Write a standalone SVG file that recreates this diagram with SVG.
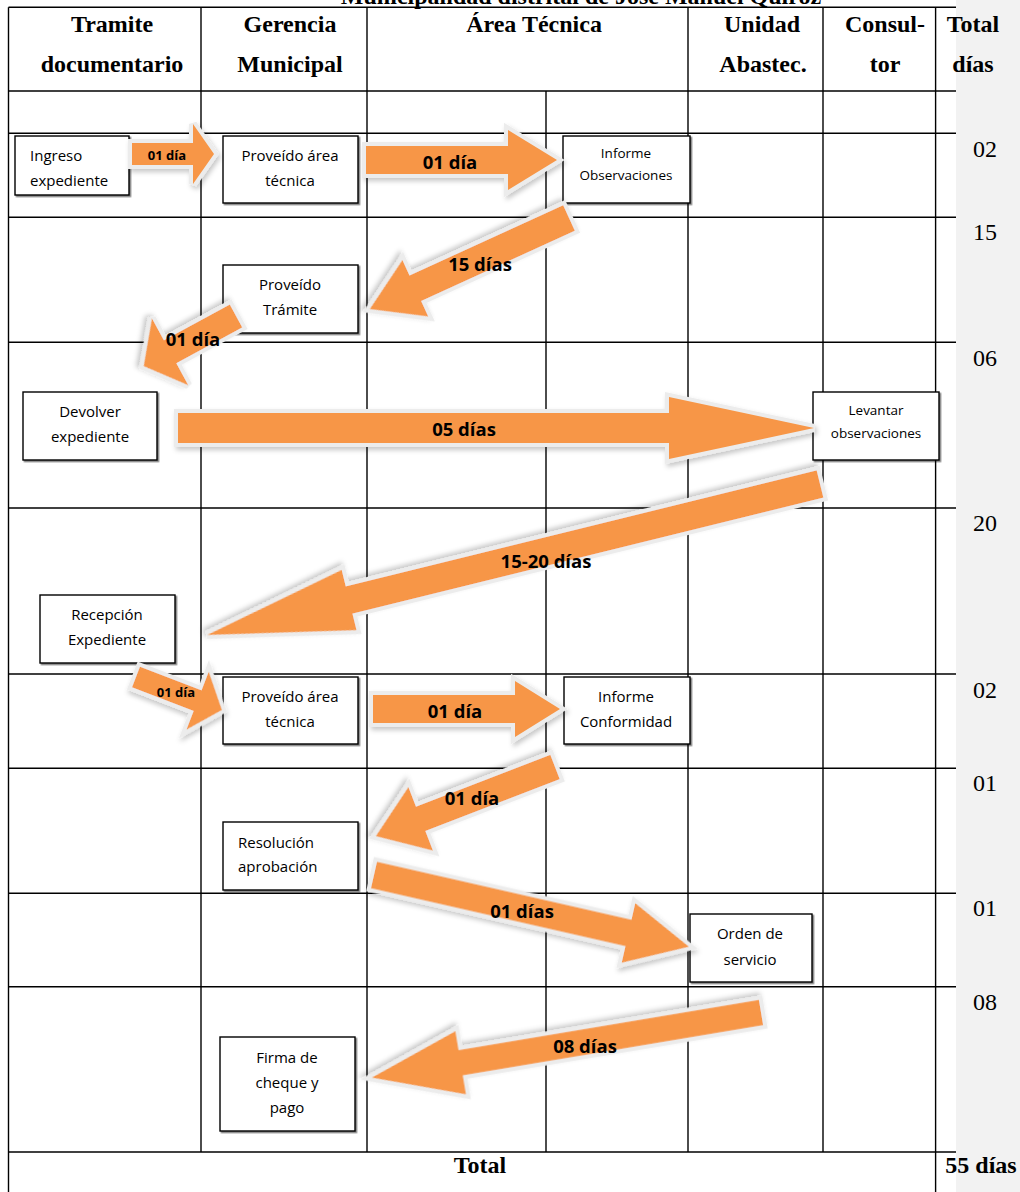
<svg xmlns="http://www.w3.org/2000/svg" width="1020" height="1192" viewBox="0 0 1020 1192">
<defs>
<style>
.ln{stroke:#000;stroke-width:1.4;fill:none}
.h{font-family:"Liberation Serif","Times New Roman",serif;font-weight:bold;font-size:24px;text-anchor:middle;fill:#000}
.num{font-family:"Liberation Serif","Times New Roman",serif;font-size:24px;text-anchor:middle;fill:#000}
.box{fill:#fff;stroke:#000;stroke-width:1.4;filter:url(#bs)}
.t{font-family:"Open Sans","Noto Sans",sans-serif;font-size:15px;fill:#000;text-anchor:middle}
.tl{text-anchor:start}
.ts{font-size:13.5px}
.arr{fill:#F79646;stroke:#ECECEC;stroke-width:8;paint-order:stroke;stroke-linejoin:miter;stroke-miterlimit:3;filter:url(#as)}
.lbl{font-family:"Open Sans","Noto Sans",sans-serif;font-weight:bold;font-size:18.5px;text-anchor:middle;fill:#000}
.lbs{font-size:13px}
</style>
<filter id="bs" x="-5%" y="-5%" width="115%" height="115%"><feDropShadow dx="1.5" dy="1.5" stdDeviation="0.5" flood-color="#000" flood-opacity="0.5"/></filter>
<filter id="as" x="-10%" y="-30%" width="125%" height="170%"><feDropShadow dx="2" dy="3" stdDeviation="2.5" flood-color="#000" flood-opacity="0.22"/></filter>
</defs>
<rect x="0" y="0" width="1020" height="1192" fill="#fff"/>
<text class="h" x="581" y="4">Municipalidad distrital de José Manuel Quiroz</text>
<g id="table">
<g class="ln">
<line x1="8.5" y1="7.3" x2="1020" y2="7.3"/>
<line x1="8.5" y1="91" x2="1020" y2="91"/>
<line x1="8.5" y1="133.3" x2="1020" y2="133.3"/>
<line x1="8.5" y1="217.3" x2="1020" y2="217.3"/>
<line x1="8.5" y1="342.3" x2="1020" y2="342.3"/>
<line x1="8.5" y1="508" x2="1020" y2="508"/>
<line x1="8.5" y1="674" x2="1020" y2="674"/>
<line x1="8.5" y1="768.3" x2="1020" y2="768.3"/>
<line x1="8.5" y1="893.3" x2="1020" y2="893.3"/>
<line x1="8.5" y1="986.7" x2="1020" y2="986.7"/>
<line x1="8.5" y1="1152" x2="1020" y2="1152"/>
<line x1="8.5" y1="7.3" x2="8.5" y2="1192"/>
<line x1="201" y1="7.3" x2="201" y2="1152"/>
<line x1="367" y1="7.3" x2="367" y2="1152"/>
<line x1="546" y1="91" x2="546" y2="1152"/>
<line x1="688" y1="7.3" x2="688" y2="1152"/>
<line x1="823" y1="7.3" x2="823" y2="1152"/>
<line x1="935.6" y1="7.3" x2="935.6" y2="1192"/>
</g>
<rect x="956" y="0" width="64" height="1192" fill="#f2f2f2"/>
<text class="h" x="112" y="32">Tramite</text>
<text class="h" x="112" y="72">documentario</text>
<text class="h" x="290" y="32">Gerencia</text>
<text class="h" x="290" y="72">Municipal</text>
<text class="h" x="534" y="32">Área Técnica</text>
<text class="h" x="762" y="32">Unidad</text>
<text class="h" x="763" y="72">Abastec.</text>
<text class="h" x="885" y="32">Consul-</text>
<text class="h" x="885" y="72">tor</text>
<text class="h" x="973" y="32">Total</text>
<text class="h" x="973" y="72">días</text>
<text class="num" x="985" y="157">02</text>
<text class="num" x="985" y="240">15</text>
<text class="num" x="985" y="366">06</text>
<text class="num" x="985" y="531">20</text>
<text class="num" x="985" y="698">02</text>
<text class="num" x="985" y="791">01</text>
<text class="num" x="985" y="916">01</text>
<text class="num" x="985" y="1010">08</text>
<text class="h" x="480" y="1173">Total</text>
<text class="h" x="981" y="1173">55 días</text>
</g>
<g id="n1"><rect class="box" x="15" y="136" width="114" height="59"/><text class="t tl" x="30" y="161">Ingreso</text><text class="t tl" x="30" y="186">expediente</text></g>
<g id="n2"><rect class="box" x="223" y="136" width="135" height="67"/><text class="t" x="290" y="161">Proveído área</text><text class="t" x="290" y="186">técnica</text></g>
<g id="n3"><rect class="box" x="563" y="136" width="127" height="67"/><text class="t ts" x="626" y="158">Informe</text><text class="t ts" x="626" y="180">Observaciones</text></g>
<g id="n4"><rect class="box" x="223" y="265" width="135" height="68"/><text class="t" x="290" y="290">Proveído</text><text class="t" x="290" y="315">Trámite</text></g>
<g id="n5"><rect class="box" x="23" y="392" width="134" height="68"/><text class="t" x="90" y="417">Devolver</text><text class="t" x="90" y="442">expediente</text></g>
<g id="n6"><rect class="box" x="813" y="392" width="126" height="68"/><text class="t ts" x="876" y="415">Levantar</text><text class="t ts" x="876" y="438">observaciones</text></g>
<g id="n7"><rect class="box" x="40" y="595" width="135" height="68"/><text class="t" x="107" y="620">Recepción</text><text class="t" x="107" y="645">Expediente</text></g>
<g id="n8"><rect class="box" x="223" y="677" width="135" height="67"/><text class="t" x="290" y="702">Proveído área</text><text class="t" x="290" y="727">técnica</text></g>
<g id="n9"><rect class="box" x="564" y="677" width="126" height="67"/><text class="t" x="626" y="702">Informe</text><text class="t" x="626" y="727">Conformidad</text></g>
<g id="n10"><rect class="box" x="223" y="822" width="135" height="68"/><text class="t tl" x="238" y="848">Resolución</text><text class="t tl" x="238" y="872">aprobación</text></g>
<g id="n11"><rect class="box" x="690" y="914" width="122" height="68"/><text class="t" x="750" y="939">Orden de</text><text class="t" x="750" y="965">servicio</text></g>
<g id="n12"><rect class="box" x="220" y="1037" width="135" height="94"/><text class="t" x="287" y="1063">Firma de</text><text class="t" x="287" y="1088">cheque y</text><text class="t" x="287" y="1113">pago</text></g>
<g id="connectors">
<polygon class="arr" transform="translate(132 154)" points="0,-11 61,-11 61,-30 82,0 61,30 61,11 0,11"/>
<text class="lbl lbs" x="167" y="159.5">01 día</text>
<polygon class="arr" transform="translate(366 160)" points="0,-14 142,-14 142,-30 191,0 142,30 142,14 0,14"/>
<text class="lbl" x="450" y="169">01 día</text>
<polygon class="arr" transform="translate(569 218) rotate(155.43)" points="0,-14 169,-14 169,-31 219,0 169,31 169,14 0,14"/>
<text class="lbl" x="480" y="271">15 días</text>
<polygon class="arr" transform="translate(236 316) rotate(151.5)" points="0,-13 75,-13 75,-38 105,0 75,38 75,13 0,13"/>
<text class="lbl" x="193" y="346">01 día</text>
<polygon class="arr" transform="translate(178 428)" points="0,-15 491,-15 491,-31 636,0 491,31 491,15 0,15"/>
<text class="lbl" x="464" y="436">05 días</text>
<polygon class="arr" transform="translate(820 484) rotate(166.16)" points="0,-14 485,-14 485,-31 631,0 485,31 485,14 0,14"/>
<text class="lbl" x="546" y="568">15-20 días</text>
<polygon class="arr" transform="translate(136 677) rotate(21)" points="0,-11 66,-11 66,-31 92,0 66,31 66,11 0,11"/>
<text class="lbl lbs" x="176" y="697">01 día</text>
<polygon class="arr" transform="translate(373 709)" points="0,-14 142,-14 142,-28 187,0 142,28 142,14 0,14"/>
<text class="lbl" x="455" y="718">01 día</text>
<polygon class="arr" transform="translate(555 767) rotate(158.9)" points="0,-13 144,-13 144,-34 192,0 144,34 144,13 0,13"/>
<text class="lbl" x="472" y="805">01 día</text>
<polygon class="arr" transform="translate(374 875) rotate(12.83)" points="0,-13.5 261,-13.5 261,-30.5 323,0 261,30.5 261,13.5 0,13.5"/>
<text class="lbl" x="522" y="918">01 días</text>
<polygon class="arr" transform="translate(761 1012.5) rotate(170.5)" points="0,-12.7 304.5,-12.7 304.5,-32 394.5,0 304.5,32 304.5,12.7 0,12.7"/>
<text class="lbl" x="585" y="1053">08 días</text>
</g>
</svg>
